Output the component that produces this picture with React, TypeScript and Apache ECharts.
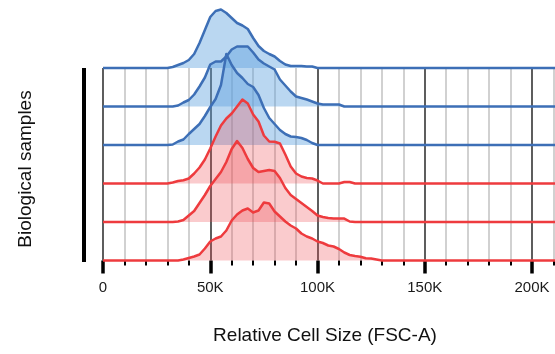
import React, { useEffect, useRef } from "react";
import * as echarts from "echarts";

// Relative cell size (FSC-A), in thousands
const fscK = [
  0, 25, 27.5, 30, 32.5, 35, 37.5, 40, 42.5, 45, 47.5, 50, 52.5, 55, 57.5, 60,
  62.5, 65, 67.5, 70, 72.5, 75, 77.5, 80, 82.5, 85, 87.5, 90, 92.5, 95, 97.5,
  100, 102.5, 105, 107.5, 110, 112.5, 115, 117.5, 120, 122.5, 125, 127.5, 130, 250,
];

// Relative density of each biological sample (top to bottom)
const blueSample1 = [
  0, 0, 0, 0, 1, 3, 5, 8, 14, 25, 38, 51, 57, 58.5, 55, 50, 45, 42.5, 39, 30, 22,
  17, 14, 11.5, 7, 3.5, 2, 2, 2, 1.5, 1.5, 0, 0, 0, 0, 0, 0, 0, 0, 0, 0, 0, 0, 0, 0,
];
const blueSample2 = [
  0, 0, 0, 0, 0, 1, 4, 6.5, 12, 20, 29, 42, 45, 45, 50, 57, 60, 60, 60, 54, 47, 43,
  40, 37, 27, 21, 15, 10, 8.5, 7, 5, 3, 2, 2, 2, 2, 0, 0, 0, 0, 0, 0, 0, 0, 0,
];
const blueSample3 = [
  0, 0, 0, 0, 0.5, 3.5, 5.5, 11, 16, 21, 29, 38, 46, 60, 91, 80, 72, 67, 61, 58,
  50, 37, 27, 21, 15, 11, 8.5, 8, 7, 5, 2, 0, 0, 0, 0, 0, 0, 0, 0, 0, 0, 0, 0, 0, 0,
];
const redSample1 = [
  0, 0, 0, 0, 1, 2.5, 3.3, 5, 10, 16, 24, 35, 47, 58, 65, 70, 77, 84, 80, 69, 62,
  48, 42, 41.7, 40, 29, 17, 10, 7, 5.5, 5, 3, 0, 0, 0, 0, 1.5, 1.5, 0, 0, 0, 0, 0, 0, 0,
];
const redSample2 = [
  0, 0, 0, 0, 0, 0.5, 2, 6.5, 11, 19, 27, 36, 43, 50, 60, 73, 81, 74, 63, 54, 50,
  51, 52, 51, 44, 34, 27, 23, 19, 15, 11, 6.5, 5, 4, 3.4, 3.4, 3.4, 0.5, 0, 0, 0, 0, 0, 0, 0,
];
const redSample3 = [
  0, 0, 0, 0, 0, 0, 1, 2.5, 4, 6, 12, 19, 22, 24, 30, 40, 46, 50, 52, 48, 50, 58,
  57, 49, 44, 39, 35, 32, 27, 24, 22, 19, 17.5, 15, 14, 11.5, 8, 5.5, 4.5, 3.8,
  2.2, 2, 1, 0, 0,
];

const samples = [blueSample1, blueSample2, blueSample3, redSample1, redSample2, redSample3];
const sampleGroup = ["blue", "blue", "blue", "red", "red", "red"];

const xTickStepK = 50;
const xMaxK = 250;
const xLastLabelK = 200;

// layout
const W = 555;
const H = 354;
const PLOT_LEFT = 103;
const PX_PER_K = 2.145;
const PLOT_WIDTH = PX_PER_K * xMaxK;
const TOP_BASELINE = 68;
const ROW_GAP = 38.5;
const FONT = '"Liberation Sans", Arial, Helvetica, sans-serif';

const palette: Record<string, { line: string; fill: string }> = {
  blue: { line: "#3d6fb6", fill: "rgba(90,160,222,0.6)" },
  red: { line: "#ee3b3e", fill: "rgba(236,70,76,0.4)" },
};

export default function App() {
  const ref = useRef<HTMLDivElement>(null);
  useEffect(() => {
    if (!ref.current) return;
    const chart = echarts.init(ref.current, undefined, { renderer: "svg" });
    const n = samples.length;
    const baselines = samples.map((_, i) => TOP_BASELINE + i * ROW_GAP);
    const lastBaseline = baselines[n - 1];

    const grids: any[] = baselines.map((b) => ({
      left: PLOT_LEFT,
      width: PLOT_WIDTH,
      top: 0,
      height: b,
      containLabel: false,
      outerBoundsMode: "none",
    }));
    grids.push({
      left: PLOT_LEFT,
      width: PLOT_WIDTH,
      top: TOP_BASELINE,
      height: lastBaseline - TOP_BASELINE,
      containLabel: false,
      outerBoundsMode: "none",
    });

    const xAxes: any[] = baselines.map((_, i) => ({
      type: "value",
      gridIndex: i,
      min: 0,
      max: xMaxK,
      show: false,
    }));
    xAxes.push({
      type: "value",
      gridIndex: n,
      min: 0,
      max: xMaxK,
      interval: xTickStepK,
      axisLine: { show: false },
      axisTick: { show: true, length: 13, lineStyle: { color: "#000", width: 3.5 } },
      minorTick: { show: true, splitNumber: 5, length: 5, lineStyle: { color: "#000", width: 2 } },
      splitLine: { show: true, lineStyle: { color: "#353535", width: 1.6 } },
      minorSplitLine: { show: true, lineStyle: { color: "#c6c6c6", width: 1.6 } },
      axisLabel: {
        margin: 18,
        fontSize: 15,
        fontFamily: FONT,
        color: "#1a1a1a",
        formatter: (v: number) => (v > xLastLabelK ? "" : v === 0 ? "0" : v + "K"),
      },
    });

    const yAxes: any[] = baselines.map((b, i) => ({
      type: "value",
      gridIndex: i,
      min: 0,
      max: b,
      show: false,
    }));
    yAxes.push({ type: "value", gridIndex: n, min: 0, max: 1, show: false });

    const series = samples.map((vals, i) => {
      const c = palette[sampleGroup[i]];
      return {
        type: "line",
        name: "Sample " + (i + 1),
        xAxisIndex: i,
        yAxisIndex: i,
        data: fscK.map((k, j) => [k, vals[j]]),
        symbol: "none",
        clip: false,
        silent: true,
        lineStyle: { color: c.line, width: 2.5, join: "round" },
        areaStyle: { color: c.fill, origin: "start" },
        z: 3,
      };
    });

    chart.setOption({
      animation: false,
      grid: grids,
      xAxis: xAxes,
      yAxis: yAxes,
      series,
      graphic: [
        {
          type: "rect",
          shape: { x: 82, y: TOP_BASELINE, width: 4, height: lastBaseline - TOP_BASELINE + 1.5 },
          style: { fill: "#000" },
        },
        {
          type: "text",
          x: 24,
          y: 169,
          rotation: Math.PI / 2,
          style: {
            text: "Biological samples",
            font: "19px " + FONT,
            fill: "#111",
            align: "center",
            verticalAlign: "middle",
            textAlign: "center",
            textVerticalAlign: "middle",
          },
        },
        {
          type: "text",
          x: 325,
          y: 334.5,
          style: {
            text: "Relative Cell Size (FSC-A)",
            font: "19px " + FONT,
            fill: "#111",
            align: "center",
            verticalAlign: "middle",
            textAlign: "center",
            textVerticalAlign: "middle",
          },
        },
      ],
    });
    return () => chart.dispose();
  }, []);
  return (
    <div
      ref={ref}
      style={{ position: "fixed", left: 0, top: 0, width: W, height: H }}
    />
  );
}
